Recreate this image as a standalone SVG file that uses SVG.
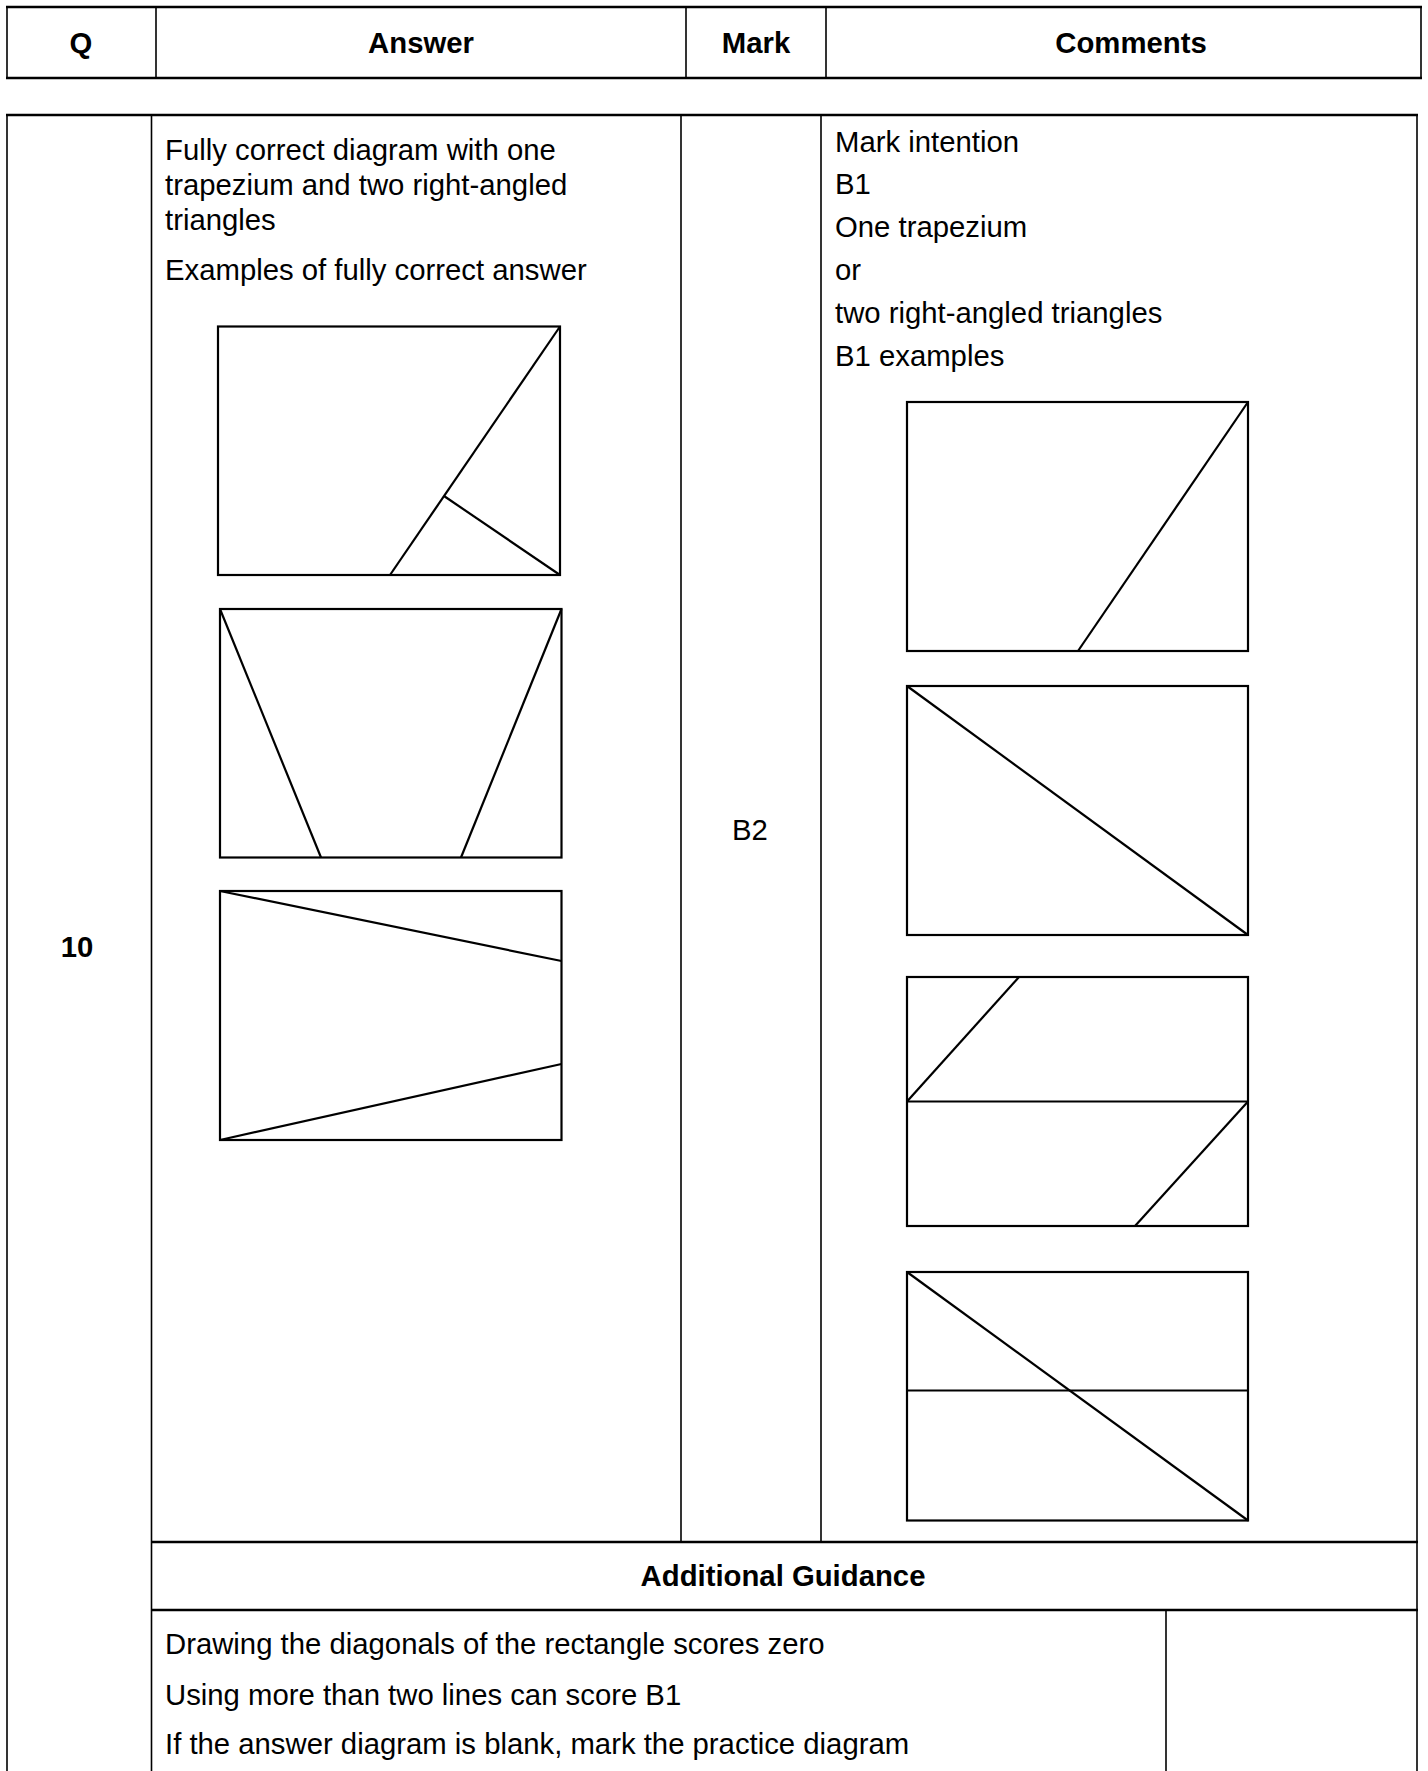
<svg xmlns="http://www.w3.org/2000/svg" width="1428" height="1771" viewBox="0 0 1428 1771">
<style>
.t{font-family:"Liberation Sans",Arial,sans-serif;font-size:29.3px;fill:#000}
.b{font-weight:bold}
.c{text-anchor:middle}
.thin{stroke:#000;stroke-width:1.6;fill:none}
.thick{stroke:#000;stroke-width:2.6;fill:none}
.d{stroke:#000;stroke-width:2.2;fill:none;stroke-linejoin:miter}
</style>
<rect width="1428" height="1771" fill="#fff"/>
<g id="header">
<line class="thin" x1="7" y1="7" x2="7" y2="78"/>
<line class="thin" x1="156" y1="7" x2="156" y2="78"/>
<line class="thin" x1="686" y1="7" x2="686" y2="78"/>
<line class="thin" x1="826" y1="7" x2="826" y2="78"/>
<line class="thin" x1="1421" y1="7" x2="1421" y2="78"/>
<line class="thick" x1="6" y1="7" x2="1422" y2="7"/>
<line class="thick" x1="6" y1="78" x2="1422" y2="78"/>
<text class="t b c" x="81" y="53">Q</text>
<text class="t b c" x="421" y="53">Answer</text>
<text class="t b c" x="756" y="53">Mark</text>
<text class="t b c" x="1131" y="53">Comments</text>
</g>
<g id="connectors">
<line class="thin" x1="7" y1="115" x2="7" y2="1771"/>
<line class="thin" x1="151.5" y1="115" x2="151.5" y2="1771"/>
<line class="thin" x1="681" y1="115" x2="681" y2="1542"/>
<line class="thin" x1="821" y1="115" x2="821" y2="1542"/>
<line class="thin" x1="1417" y1="115" x2="1417" y2="1771"/>
<line class="thin" x1="1166" y1="1610" x2="1166" y2="1771"/>
<line class="thick" x1="6" y1="115" x2="1418" y2="115"/>
<line class="thick" x1="151" y1="1542" x2="1418" y2="1542"/>
<line class="thick" x1="151" y1="1610" x2="1418" y2="1610"/>
</g>
<g id="q-cell">
<text class="t b c" x="77" y="957">10</text>
</g>
<g id="answer-text">
<text class="t" x="165" y="160">Fully correct diagram with one</text>
<text class="t" x="165" y="195">trapezium and two right-angled</text>
<text class="t" x="165" y="230">triangles</text>
<text class="t" x="165" y="280">Examples of fully correct answer</text>
</g>
<g id="answer-diagram-1">
<rect class="d" x="218" y="326.5" width="342" height="248.5"/>
<line class="d" x1="560" y1="326.5" x2="390" y2="575"/>
<line class="d" x1="444" y1="496" x2="560" y2="575"/>
</g>
<g id="answer-diagram-2">
<rect class="d" x="220" y="609" width="341.5" height="248.5"/>
<line class="d" x1="220" y1="609" x2="321" y2="857.5"/>
<line class="d" x1="561.5" y1="609" x2="461" y2="857.5"/>
</g>
<g id="answer-diagram-3">
<rect class="d" x="220" y="891" width="341.5" height="249"/>
<line class="d" x1="220" y1="891" x2="561.5" y2="961"/>
<line class="d" x1="220" y1="1140" x2="561.5" y2="1064"/>
</g>
<g id="mark-cell">
<text class="t c" x="750" y="840">B2</text>
</g>
<g id="comments-text">
<text class="t" x="835" y="152">Mark intention</text>
<text class="t" x="835" y="194">B1</text>
<text class="t" x="835" y="237">One trapezium</text>
<text class="t" x="835" y="280">or</text>
<text class="t" x="835" y="323">two right-angled triangles</text>
<text class="t" x="835" y="366">B1 examples</text>
</g>
<g id="comment-diagram-1">
<rect class="d" x="907" y="402" width="341" height="249"/>
<line class="d" x1="1248" y1="402" x2="1078" y2="651"/>
</g>
<g id="comment-diagram-2">
<rect class="d" x="907" y="686" width="341" height="249"/>
<line class="d" x1="907" y1="686" x2="1248" y2="935"/>
</g>
<g id="comment-diagram-3">
<rect class="d" x="907" y="977" width="341" height="249"/>
<line class="d" x1="907" y1="1101.5" x2="1248" y2="1101.5"/>
<line class="d" x1="907" y1="1101.5" x2="1019" y2="977"/>
<line class="d" x1="1248" y1="1101.5" x2="1135" y2="1226"/>
</g>
<g id="comment-diagram-4">
<rect class="d" x="907" y="1272" width="341" height="248.5"/>
<line class="d" x1="907" y1="1390.5" x2="1248" y2="1390.5"/>
<line class="d" x1="907" y1="1272" x2="1248" y2="1520.5"/>
</g>
<g id="additional-guidance">
<text class="t b c" x="783" y="1586">Additional Guidance</text>
<text class="t" x="165" y="1654">Drawing the diagonals of the rectangle scores zero</text>
<text class="t" x="165" y="1705">Using more than two lines can score B1</text>
<text class="t" x="165" y="1754">If the answer diagram is blank, mark the practice diagram</text>
</g>
</svg>
